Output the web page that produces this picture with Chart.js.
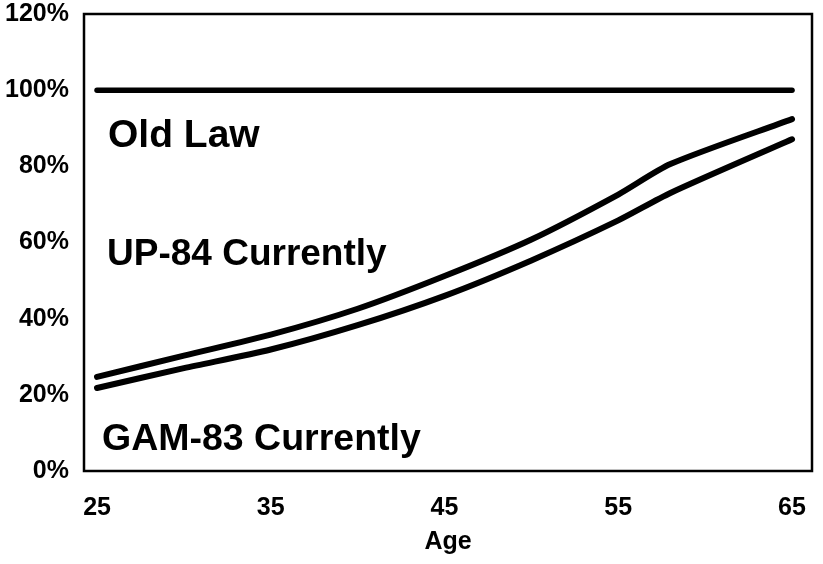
<!DOCTYPE html>
<html>
<head>
<meta charset="utf-8">
<script src="https://cdn.jsdelivr.net/npm/chart.js@4.4.1/dist/chart.umd.min.js"></script>
<style>
    html, body { margin: 0; padding: 0; background: #fff; }
    #wrap { width: 823px; height: 564px; position: relative; }
</style>
</head>
<body>
<div id="wrap"><canvas id="ageChart"></canvas></div>
<script>
// Veriler
const ages = [25, 30, 35, 40, 45, 50, 55, 58, 65];
const up84 = [24.7, 30.3, 35.8, 42.6, 51.2, 60.8, 72.6, 80.6, 92.4];
const gam83 = [21.8, 27.0, 31.9, 38.3, 46.0, 55.3, 65.8, 73.0, 87.1];
const oldLawAges = [25, 65];
const oldLaw = [100, 100];
const xTicks = [25, 35, 45, 55, 65];
const yTicks = [0, 20, 40, 60, 80, 100, 120];
const seriesNames = ['Old Law', 'UP-84 Currently', 'GAM-83 Currently'];

const FONT = "'Liberation Sans', Arial, Helvetica, sans-serif";

function toPoints(xs, ys) {
    return xs.map((x, i) => ({ x: x, y: ys[i] }));
}

// Kutu cercevesi ve egri isimleri
const framePlugin = {
    id: 'framePlugin',
    afterDraw(chart) {
        const { ctx, chartArea: a, scales } = chart;
        ctx.save();
        ctx.strokeStyle = '#000';
        ctx.lineWidth = 2.5;
        ctx.strokeRect(a.left, a.top, a.right - a.left, a.bottom - a.top);

        // isimler: y degeri olarak konumlandirildi
        const spots = [88.5, 57.2, 8.7];
        const lefts = [108, 107, 102];
        const sizes = [39, 37, 37.5];
        ctx.fillStyle = '#000';
        ctx.textBaseline = 'middle';
        ctx.textAlign = 'left';
        seriesNames.forEach((name, i) => {
            ctx.font = `bold ${sizes[i]}px ${FONT}`;
            ctx.fillText(name, lefts[i], scales.y.getPixelForValue(spots[i]) + 2);
        });
        ctx.restore();
    }
};

const lineStyle = {
    borderColor: '#000',
    borderWidth: 6,
    borderCapStyle: 'round',
    borderJoinStyle: 'round',
    pointRadius: 0,
    tension: 0.25,
    fill: false
};

new Chart(document.getElementById('ageChart'), {
    type: 'line',
    data: {
        datasets: [
            { ...lineStyle, label: seriesNames[0], data: toPoints(oldLawAges, oldLaw), borderWidth: 5.5 },
            { ...lineStyle, label: seriesNames[1], data: toPoints(ages, up84) },
            { ...lineStyle, label: seriesNames[2], data: toPoints(ages, gam83) }
        ]
    },
    options: {
        responsive: true,
        maintainAspectRatio: false,
        animation: false,
        layout: { padding: { top: 14, right: 11, left: 0, bottom: 0 } },
        plugins: {
            legend: { display: false },
            tooltip: { enabled: false }
        },
        scales: {
            x: {
                type: 'linear',
                min: 24.25,
                max: 66.15,
                afterBuildTicks: (scale) => { scale.ticks = xTicks.map(v => ({ value: v })); },
                afterFit: (scale) => {
                    scale.height = 93;
                    scale.paddingLeft = 0;
                    scale.paddingRight = 0;
                },
                grid: { display: false, drawTicks: false },
                border: { display: false },
                ticks: {
                    color: '#000',
                    padding: 22,
                    maxRotation: 0,
                    font: { family: FONT, size: 25, weight: 'bold' }
                },
                title: {
                    display: true,
                    text: 'Age',
                    color: '#000',
                    padding: { top: 0, bottom: 7 },
                    font: { family: FONT, size: 25, weight: 'bold' }
                }
            },
            y: {
                min: 0,
                max: 120,
                afterBuildTicks: (scale) => { scale.ticks = yTicks.map(v => ({ value: v })); },
                afterFit: (scale) => {
                    scale.width = 84;
                    scale.paddingTop = 0;
                    scale.paddingBottom = 0;
                },
                grid: { display: false, drawTicks: false },
                border: { display: false },
                ticks: {
                    color: '#000',
                    padding: 15,
                    callback: (v) => v + '%',
                    font: { family: FONT, size: 25, weight: 'bold' }
                }
            }
        }
    },
    plugins: [framePlugin]
});
</script>
</body>
</html>
